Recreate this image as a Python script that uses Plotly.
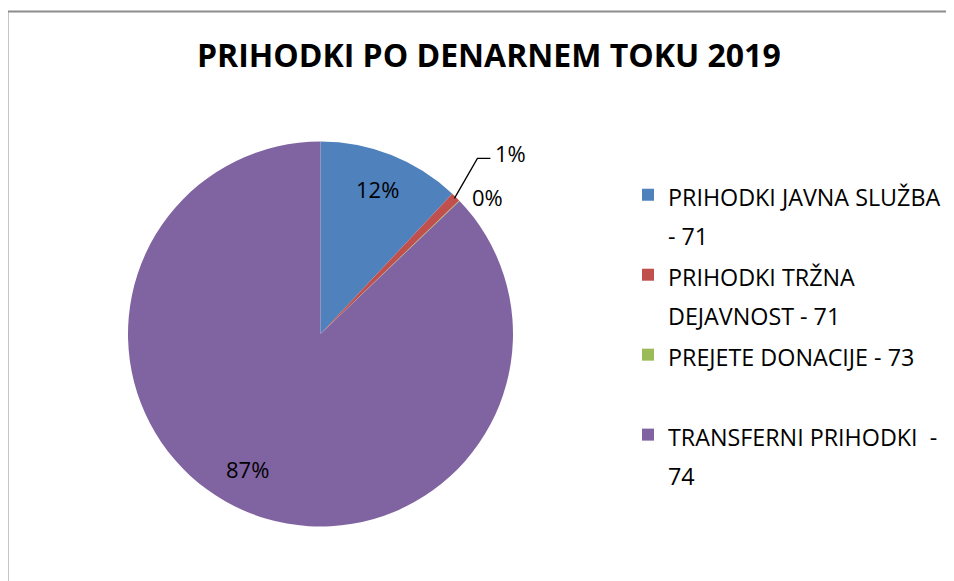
import math
import plotly.graph_objects as go

# slices, clockwise from 12 o'clock
labels = ['PRIHODKI JAVNA SLUŽBA - 71', 'PRIHODKI TRŽNA DEJAVNOST - 71',
          'PREJETE DONACIJE - 73', 'TRANSFERNI PRIHODKI  - 74']
legend_lines = [['PRIHODKI JAVNA SLUŽBA', '- 71'],
                ['PRIHODKI TRŽNA', 'DEJAVNOST - 71'],
                ['PREJETE DONACIJE - 73'],
                ['TRANSFERNI PRIHODKI  -', '74']]
values = [12.0, 0.8, 0.05, 87.15]
colors = ['#4F81BD', '#C0504D', '#9BBB59', '#8064A2']

W, H = 954, 581
OFF = 8  # page body margin around the plot div
CX, CY, R = 320.5, 334, 192.5
FONT = 'Open Sans'


def to_paper(px, py):
    return (px - OFF) / W, 1 - (py - OFF) / H


def edge_point(frac, r):
    ang = 2 * math.pi * frac
    return CX + r * math.sin(ang), CY - r * math.cos(ang)


# legend text: line pitch comes from the legend font, glyphs set by the span
def legend_name(lines):
    lines = lines + ['&nbsp;'] * (2 - len(lines))
    return '<br>'.join(f'<span style="font-size:23.3px">{l}</span>' for l in lines)


names = [legend_name(l) for l in legend_lines]

x0, y1 = to_paper(CX - R, CY - R)
x1, y0 = to_paper(CX + R, CY + R)

fig = go.Figure(go.Pie(
    labels=names,
    values=values,
    sort=False,
    direction='clockwise',
    rotation=0,
    marker=dict(colors=colors, line=dict(color='white', width=0)),
    textinfo='none',
    hovertext=labels,
    hoverinfo='text+percent',
    domain=dict(x=[x0, x1], y=[y0, y1]),
))

lbl_font = dict(family=FONT, size=22, color='black')
nudge = {0: (0, 0), 3: (-12, -8)}

total = sum(values)
shares = [v / total for v in values]
annotations = []
shapes = []
start = 0
for i, s in enumerate(shares):
    mid = start + s / 2
    txt = f'{s:.0%}'
    if i in (0, 3):
        px, py = edge_point(mid, 0.81 * R)
        ax, ay = to_paper(px + nudge[i][0], py + nudge[i][1])
        annotations.append(dict(x=ax, y=ay, xref='paper', yref='paper', text=txt,
                                xanchor='center', yanchor='middle',
                                showarrow=False, font=lbl_font))
    elif i == 1:
        # elbow leader line for the thin slice
        ex, ey = edge_point(mid, R * 0.99)
        kx, ky = ex + 23, ey - 40
        hx = kx + 13
        pts = [to_paper(ex, ey), to_paper(kx, ky), to_paper(hx, ky)]
        path = 'M {} {} L {} {} L {} {}'.format(*[c for p in pts for c in p])
        shapes.append(dict(type='path', path=path, xref='paper', yref='paper',
                           line=dict(color='black', width=1.3)))
        tx, ty = to_paper(hx + 3, ky - 5)
        annotations.append(dict(x=tx, y=ty, xref='paper', yref='paper', text=txt,
                                xanchor='left', yanchor='middle',
                                showarrow=False, font=lbl_font))
    else:
        ex, ey = edge_point(start, R)
        tx, ty = to_paper(ex + 28, ey - 3)
        annotations.append(dict(x=tx, y=ty, xref='paper', yref='paper', text=txt,
                                xanchor='center', yanchor='middle',
                                showarrow=False, font=lbl_font))
    start += s

# chart area border
bx, by = to_paper(7.5, 11.5)
shapes.append(dict(type='rect', xref='paper', yref='paper', x0=bx, y0=-0.1, x1=1.1, y1=by,
                   line=dict(color='#8c8c8c', width=2)))

tx, ty = to_paper(489, 55)
annotations.append(dict(x=tx, y=ty, xref='paper', yref='paper',
                        text='<b>PRIHODKI PO DENARNEM TOKU 2019</b>', showarrow=False,
                        xanchor='center', yanchor='middle',
                        font=dict(family=FONT, size=32, color='black')))

lx, ly = to_paper(628, 169)
fig.update_layout(
    width=W, height=H,
    margin=dict(l=0, r=0, t=0, b=0),
    paper_bgcolor='white',
    plot_bgcolor='white',
    font=dict(family=FONT, color='black'),
    showlegend=True,
    legend=dict(x=lx, y=ly, xanchor='left', yanchor='top', valign='top',
                font=dict(family=FONT, size=29.6, color='black'),
                bgcolor='rgba(0,0,0,0)'),
    annotations=annotations,
    shapes=shapes,
)

fig.write_html('out.html')
